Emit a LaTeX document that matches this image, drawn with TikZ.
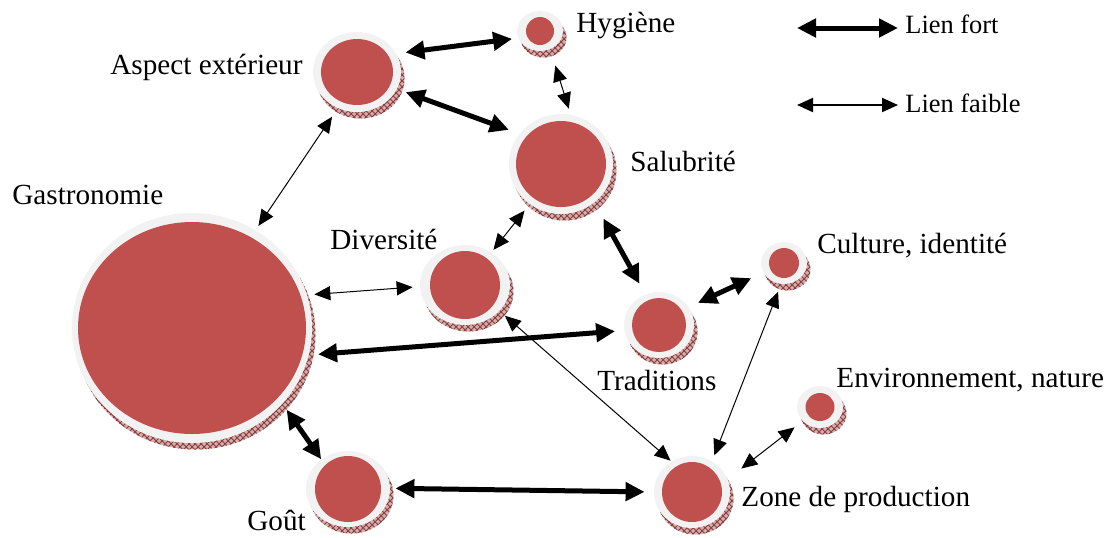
\documentclass[tikz,border=0pt]{standalone}
\usepackage{fontspec}
\setmainfont{Liberation Serif}
\usetikzlibrary{arrows.meta,shapes.geometric,patterns}
\definecolor{disque}{HTML}{C0504D}
\definecolor{anneau}{HTML}{F2F2F2}
\definecolor{ombre}{HTML}{D2AEAE}
\definecolor{ombretrait}{HTML}{8C3B3B}
% bulle : nom, centre, largeur et hauteur de l'anneau, largeur et hauteur du coeur
\newcommand{\bulle}[6]{%
  \node[socle,minimum width=#3pt,minimum height=#4pt,xshift=1.75pt,yshift=-3.25pt] at (#2) {};
  \node[anneau,minimum width=#3pt,minimum height=#4pt] (#1) at (#2) {};
  \node[coeur,minimum width=#5pt,minimum height=#6pt] at (#1) {};}
\tikzset{
  anneau/.style={ellipse,fill=anneau,inner sep=0pt},
  coeur/.style={ellipse,fill=disque,inner sep=0pt},
  socle/.style={ellipse,inner sep=0pt,preaction={fill=ombre},pattern=crosshatch,pattern color=ombretrait},
  fort/.style={{Triangle[length=9.5pt,width=9pt]}-{Triangle[length=9.5pt,width=9pt]},line width=2.5pt},
  faible/.style={{Triangle[length=8pt,width=7pt]}-{Triangle[length=8pt,width=7pt]},line width=0.5pt},
  etiq/.style={anchor=base west,inner sep=0pt,font=\fontsize{14.6}{17}\selectfont},
  legende/.style={anchor=base west,inner sep=0pt,font=\fontsize{13.2}{16}\selectfont},
}
\begin{document}
\begin{tikzpicture}[x=0.5pt,y=-0.5pt]
\useasboundingbox (0,0) rectangle (1119,537);

% les bulles
\bulle{gastro}{192,328}{120}{115}{114}{106}
\bulle{aspect}{357,72}{44}{40}{36}{33}
\bulle{hyg}{540,31}{23}{20}{14}{14}
\bulle{salub}{561,164}{52}{50}{45}{43}
\bulle{divers}{465,285}{45}{40}{35}{34}
\bulle{tradi}{659,325}{35}{33}{27}{27}
\bulle{culture}{784,263}{23}{21}{15}{15}
\bulle{envir}{820,407}{23}{21}{14.5}{14}
\bulle{gout}{348,489}{42}{38}{33}{33}
\bulle{zone}{692,492}{38}{36}{30}{30}

% les etiquettes
\node[etiq] (lgastro) at (12,204) {Gastronomie};
\node[etiq] (laspect) at (110,74) {Aspect extérieur};
\node[etiq] (lhyg) at (576,32) {Hygiène};
\node[etiq] (lsalub) at (630,171) {Salubrité};
\node[etiq] (ldivers) at (330,249) {Diversité};
\node[etiq] (ltradi) at (597,390) {Traditions};
\node[etiq] (lculture) at (817,253) {Culture, identité};
\node[etiq] (lenvir) at (836,387) {Environnement, nature};
\node[etiq] (lgout) at (247,530) {Goût};
\node[etiq] (lzone) at (741,506) {Zone de production};

% liens forts
\draw[fort,shorten <=4.5pt,shorten >=3pt] (aspect.25) -- (hyg.198);
\draw[fort,shorten <=4.5pt,shorten >=5.5pt] (aspect.337) -- (salub.144);
\draw[fort,shorten <=9pt,shorten >=6pt] (salub.311) -- (tradi.114);
\draw[fort,shorten <=5pt,shorten >=6.5pt] (tradi.31) -- (culture.205);
\draw[fort,shorten <=4.5pt,shorten >=4.5pt] (gastro.347) -- (tradi.189);
\draw[fort,shorten <=3.5pt] (gastro.320) -- (gout.132);
\draw[fort,shorten <=2.5pt,shorten >=4.5pt] (gout.1) -- (zone.180);

% liens faibles
\draw[faible,shorten <=5pt,shorten >=2.5pt] (aspect.242) -- (gastro.57);
\draw[faible,shorten <=8.5pt,shorten >=3pt] (hyg.299) -- (salub.79);
\draw[faible,shorten <=4pt,shorten >=1.5pt] (salub.232) -- (divers.51);
\draw[faible,shorten <=3.5pt,shorten >=3.5pt] (gastro.16) -- (divers.182);
\draw[faible,shorten <=3.5pt,shorten >=0.5pt] (divers.323) -- (zone.124);
\draw[faible,shorten <=3pt,shorten >=4pt] (zone.57) -- (culture.262);
\draw[faible,shorten <=8.5pt,shorten >=5pt] (zone.20) -- (envir.219);

% legende
\coordinate (fortdeb) at (797,28);
\coordinate (fortfin) at (898,28);
\coordinate (faibledeb) at (797,105);
\coordinate (faiblefin) at (898,105);
\draw[fort] (fortdeb) -- (fortfin);
\draw[faible,line width=1pt] (faibledeb) -- (faiblefin);
\node[legende] (lfort) at (905,33) {Lien fort};
\node[legende] (lfaible) at (905,112) {Lien faible};
\end{tikzpicture}
\end{document}
